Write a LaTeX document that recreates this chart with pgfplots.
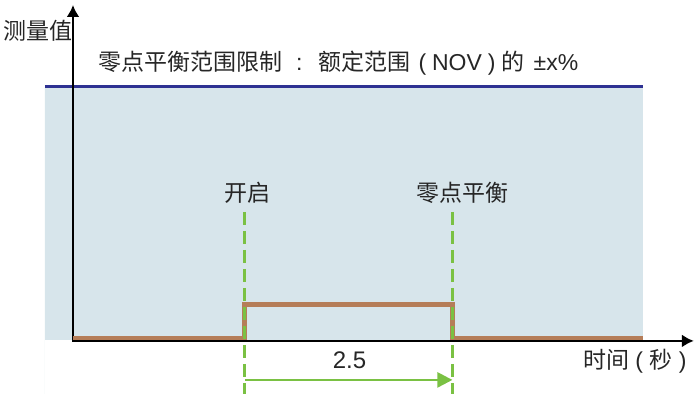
\documentclass[border=0pt]{standalone}
\usepackage{pgfplots}
\pgfplotsset{compat=1.18}
\usetikzlibrary{arrows.meta}
\usepackage{fontspec}
\setmainfont{Liberation Sans}
\newfontfamily\cjk{Noto Sans CJK SC}

\definecolor{bandfill}{HTML}{D7E5EB}
\definecolor{limitline}{HTML}{2E3192}
\definecolor{signal}{HTML}{B57D58}
\definecolor{marker}{HTML}{7AC143}

\tikzset{lbl/.style={font=\fontsize{23}{26}\selectfont, text=black!85}}

\begin{document}
\begin{tikzpicture}
\begin{axis}[
    scale only axis,
    width=695pt, height=394pt,
    xmin=0, xmax=695,
    ymin=0, ymax=394,
    axis lines=none,
    clip=false,
]
\path (axis cs:0,0) rectangle (axis cs:695,394);

% allowed band (+-x% of NOV)
\addplot[fill=bandfill, draw=none] coordinates {(45,54) (643,54) (643,307) (45,307)} \closedcycle;
\addplot[limitline, line width=3pt] coordinates {(45,307) (643,307)};

% axes
\addplot[black, line width=2.3pt, -{Latex[length=12pt,width=13pt]}] coordinates {(73,52) (73,389)};
\addplot[black, line width=2.3pt, -{Latex[length=12pt,width=13pt]}] coordinates {(73,53) (694,53)};

% measured value
\addplot[signal, line width=4.5pt] coordinates {(73,56) (244.5,56) (244.5,89.5) (452.5,89.5) (452.5,56) (643,56)};

% start / zero balance markers
\addplot[marker, line width=2.5pt, dash pattern=on 13pt off 6pt] coordinates {(244.5,182) (244.5,0)};
\addplot[marker, line width=2.5pt, dash pattern=on 13pt off 6pt] coordinates {(452.5,182) (452.5,0)};
\addplot[marker, line width=2.5pt, -{Triangle[length=15pt,width=15pt]}] coordinates {(245,14) (452.5,14)};

\node[lbl] at (axis cs:38.5,363) {\cjk 测量值};
\node[lbl, anchor=west, inner sep=0pt] at (axis cs:98,331)
  {{\cjk 零点平衡范围限制}\hspace{14pt}:\hspace{16pt}{\cjk 额定范围}\hspace{8pt}(\hspace{6pt}NOV\hspace{6pt})\hspace{6pt}{\cjk 的}\hspace{9pt}±x\%};
\node[lbl] at (axis cs:248,201) {\cjk 开启};
\node[lbl] at (axis cs:462.5,201) {\cjk 零点平衡};
\node[lbl, font=\fontsize{24}{26}\selectfont] at (axis cs:349.5,34) {2.5};
\node[lbl, anchor=west, inner sep=0pt] at (axis cs:583,33) {{\cjk 时间}\ (\ {\cjk 秒}\ )};
\end{axis}
\end{tikzpicture}
\end{document}
